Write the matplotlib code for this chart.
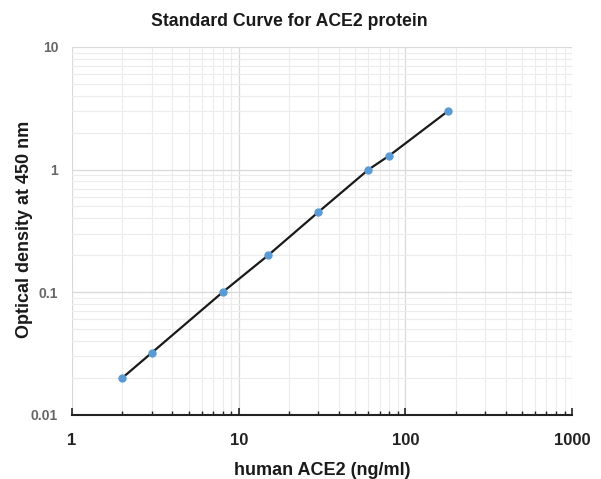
import numpy as np
import matplotlib
matplotlib.use('Agg')
import matplotlib.pyplot as plt
from matplotlib.ticker import FixedLocator, FixedFormatter, LogLocator, NullFormatter

plt.rcParams['font.family'] = ['Liberation Sans', 'DejaVu Sans']

# standard curve data
conc = [2, 3, 8, 15, 30, 60, 80, 180]
od = [0.02, 0.032, 0.1, 0.2, 0.45, 1.0, 1.3, 3.0]

xticks = [1, 10, 100, 1000]
xlabels = ['1', '10', '100', '1000']
yticks = [0.01, 0.1, 1, 10]
ylabels = ['0.01', '0.1', '1', '10']

fig = plt.figure(figsize=(6.01, 4.79), dpi=100)
ax = fig.add_axes([0.12, 0.134, 0.832, 0.768])

ax.set_xscale('log')
ax.set_yscale('log')
ax.set_xlim(1, 1000)
ax.set_ylim(0.01, 10)

ax.plot(conc, od, color='#1a1a1a', lw=1.6, zorder=3)
ax.plot(conc, od, 'o', color='#5b9bd5', ms=5, zorder=4)

ax.xaxis.set_major_locator(FixedLocator(xticks))
ax.xaxis.set_major_formatter(FixedFormatter(xlabels))
ax.yaxis.set_major_locator(FixedLocator(yticks))
ax.yaxis.set_major_formatter(FixedFormatter(ylabels))
ax.xaxis.set_minor_locator(LogLocator(base=10, subs=np.arange(2, 10)))
ax.yaxis.set_minor_locator(LogLocator(base=10, subs=np.arange(2, 10)))
ax.xaxis.set_minor_formatter(NullFormatter())
ax.yaxis.set_minor_formatter(NullFormatter())

ax.grid(True, which='major', color='#d9d9d9', lw=0.9)
ax.grid(True, which='minor', color='#ececec', lw=0.8)
ax.set_axisbelow(True)

for s in ['top', 'right', 'left']:
    ax.spines[s].set_visible(False)
ax.spines['bottom'].set_color('#222222')
ax.spines['bottom'].set_linewidth(1.5)

ax.tick_params(axis='x', which='both', direction='in', color='#222222')
ax.tick_params(axis='x', which='major', length=5, width=1.2, labelsize=12, pad=13)
ax.tick_params(axis='x', which='minor', length=3, width=1.0)
ax.tick_params(axis='y', which='both', length=0, labelsize=10, pad=10)
for lab in ax.get_xticklabels():
    lab.set_fontweight('bold')
    lab.set_color('#222222')
for lab in ax.get_yticklabels():
    lab.set_fontweight('bold')
    lab.set_color('#666666')

fig.text(0.482, 0.956, 'Standard Curve for ACE2 protein', fontsize=12.7,
         fontweight='bold', ha='center', va='center', color='#1a1a1a')
ax.set_xlabel('human ACE2 (ng/ml)', fontsize=13, fontweight='bold', labelpad=10,
              color='#1a1a1a')
ax.set_ylabel('Optical density at 450 nm', fontsize=13, fontweight='bold',
              color='#1a1a1a')
ax.yaxis.set_label_coords(-0.078, 0.505)

fig.savefig('out.png', dpi=100)
